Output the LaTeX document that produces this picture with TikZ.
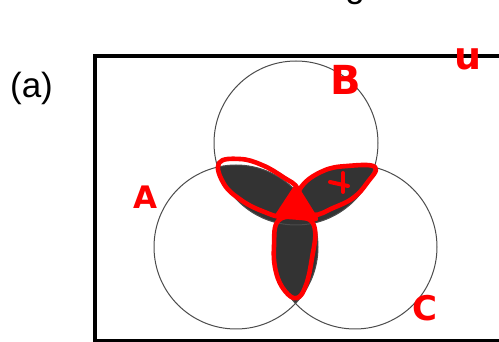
\documentclass[tikz,border=0pt]{standalone}
\usepackage{fontspec}
\usepackage{xcolor}
\usepackage{tikz}
\usetikzlibrary{arrows.meta, positioning, shapes.geometric}
\newfontfamily\labelfont{Liberation Sans}
\newfontfamily\handfont{DejaVu Sans}
\newcommand{\handsize}[1]{\handfont\bfseries\fontsize{#1}{#1}\selectfont}

\begin{document}
\begin{tikzpicture}[x=1pt, y=-1pt,
        setcirc/.style={circle, draw=black!70, line width=1pt, minimum size=164pt, inner sep=0pt},
        shade2/.style={fill=black!80},
        petal/.style={draw=red, line width=4.6pt, line cap=round, line join=round},
        hand/.style={text=red, inner sep=0pt, font=\handsize{#1}},
        caption/.style={inner sep=0pt, font=\labelfont\fontsize{35}{40}\selectfont}]
    \clip (0,0) rectangle (499,342);

    \coordinate (ctrA) at (236,247);
    \coordinate (ctrB) at (296,143);
    \coordinate (ctrC) at (355,247);

    \begin{scope}
        \clip (ctrA) circle (82pt);
        \fill[shade2] (ctrB) circle (82pt);
        \fill[shade2] (ctrC) circle (82pt);
    \end{scope}
    \begin{scope}
        \clip (ctrB) circle (82pt);
        \fill[shade2] (ctrC) circle (82pt);
    \end{scope}

    \node (setA) [setcirc] at (ctrA) {};
    \node (setB) [setcirc] at (ctrB) {};
    \node (setC) [setcirc] at (ctrC) {};

    \draw[line width=3.5pt] (95,56) rectangle (520,340.5);

    \node (title) [caption, anchor=base] at (355,-2) {g};
    \node (part) [caption] at (31.5,88.5) {(a)};

    \draw[petal] plot[smooth cycle, tension=0.7] coordinates {(219,163) (240,159) (262,165) (283,177) (298,189) (298,208) (284,217) (262,211) (241,200) (224,184)};
    \draw[petal] plot[smooth cycle, tension=0.7] coordinates {(375,167) (367,183) (353,198) (333,208) (313,215) (297,205) (302,186) (323,171) (347,166)};
    \draw[petal] plot[smooth cycle, tension=0.7] coordinates {(279,220) (274,246) (276,272) (285,291) (297,298) (306,285) (312,258) (315,230) (305,218)};
    \filldraw[petal, fill=red] (296,187) -- (277,216) -- (316,219) -- cycle;

    \draw[petal, line width=4pt] (330,182) -- (348,186);
    \draw[petal, line width=4pt] (343,173) -- (343,192);

    \node (lblA) [hand=31] at (145,197) {A};
    \node (lblB) [hand=40] at (346,80) {B};
    \node (lblC) [hand=34] at (425,308) {C};
    \node (lblU) [hand=38] at (468,59) {u};
\end{tikzpicture}
\end{document}
